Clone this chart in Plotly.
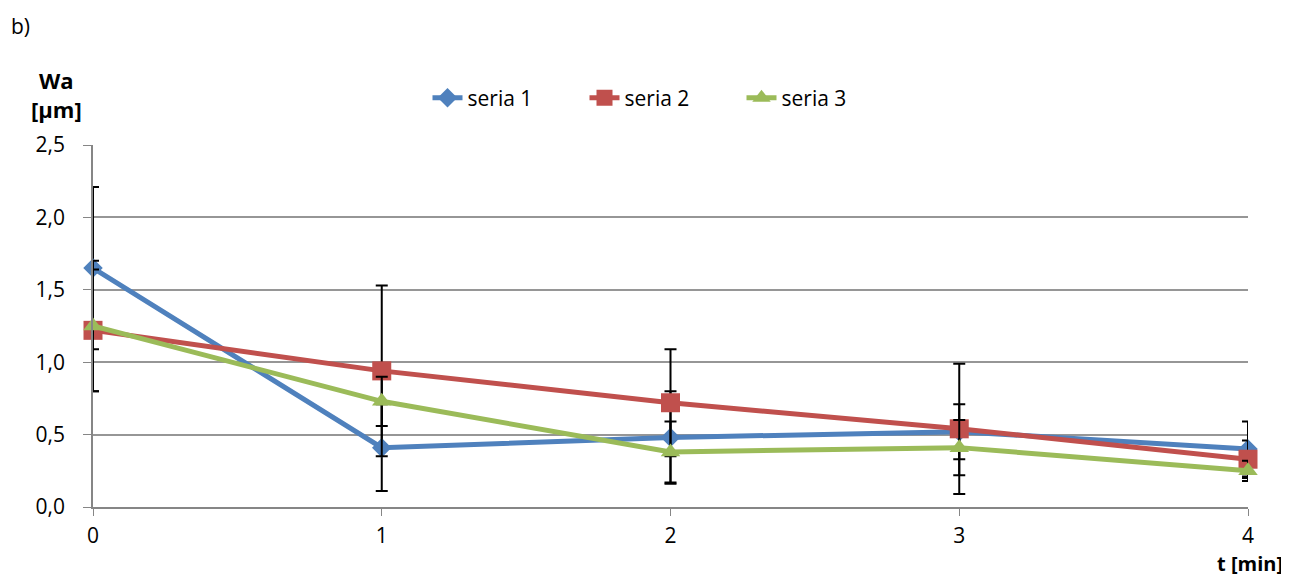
import plotly.graph_objects as go

t = [0, 1, 2, 3, 4]
seria1 = [1.65, 0.41, 0.48, 0.52, 0.40]
seria2 = [1.22, 0.94, 0.72, 0.54, 0.33]
seria3 = [1.25, 0.73, 0.38, 0.41, 0.25]
err1 = [0.56, 0.30, 0.32, 0.19, 0.19]
err2 = [0.42, 0.59, 0.37, 0.45, 0.13]
err3 = [0.45, 0.17, 0.21, 0.19, 0.07]

names = ["seria 1", "seria 2", "seria 3"]
colors = ["#4F81BD", "#C0504D", "#9BBB59"]
symbols = ["diamond", "square", "triangle-up"]
sizes = [15, 19, 17]

FONT = "Open Sans"
FS = 21
OFF = 8  # page body margin
W, H = 1289 - OFF, 578 - OFF
L, T = 93 - OFF, 145 - OFF
R = W - (1248 - OFF)
B = H - (507 - OFF)

fig = go.Figure()
for name, ys, es, c, s, sz in zip(names, [seria1, seria2, seria3], [err1, err2, err3], colors, symbols, sizes):
    fig.add_trace(go.Scatter(
        x=t, y=ys, name=name, mode="lines+markers",
        line=dict(color=c, width=5),
        marker=dict(symbol=s, size=sz, color=c),
        error_y=dict(type="data", array=es, visible=True, color="black", thickness=2, width=6),
        cliponaxis=False,
    ))

pw = W - L - R
ph = H - T - B


def px2paper(px, py):
    return (px - OFF - L) / pw, (H - B - (py - OFF)) / ph


anns = [
    ("b)", 10, 26, "left", "middle", FS),
    ("<b>Wa</b>", 56, 80, "center", "middle", 22),
    ("<b>[µm]</b>", 56, 109, "center", "middle", 22),
    ("<b>t [min]</b>", 1284, 578, "right", "bottom", 20),
]
annotations = []
for text, px, py, xa, ya, fs in anns:
    ax, ay = px2paper(px, py)
    annotations.append(dict(text=text, x=ax, y=ay, xref="paper", yref="paper", showarrow=False,
                            font=dict(size=fs), xanchor=xa, yanchor=ya, borderpad=0))

lx, ly = px2paper(663, 98)

fig.update_layout(
    width=W, height=H,
    margin=dict(l=L, r=R, t=T, b=B),
    plot_bgcolor="white", paper_bgcolor="white",
    separators=", ",
    font=dict(family=FONT, size=FS, color="black"),
    showlegend=True,
    legend=dict(orientation="h", x=lx, xanchor="center", y=ly, yanchor="middle",
                font=dict(size=FS), itemwidth=30, entrywidth=112, entrywidthmode="pixels"),
    xaxis=dict(range=[0, 4], tickvals=t, showgrid=False, showline=True, linecolor="#868686",
               linewidth=1.5, ticks="outside", ticklen=7, tickcolor="#868686", zeroline=False,
               ticklabelstandoff=2, tickfont=dict(size=FS)),
    yaxis=dict(range=[0, 2.5], dtick=0.5, tickformat=".1f", showgrid=True, gridcolor="#969696",
               gridwidth=1.5, showline=True, linecolor="#868686", linewidth=1.5, ticks="outside",
               ticklen=8, tickcolor="#868686", zeroline=False, ticklabelstandoff=14,
               tickfont=dict(size=FS)),
    annotations=annotations,
)

fig.write_html("out.html")
